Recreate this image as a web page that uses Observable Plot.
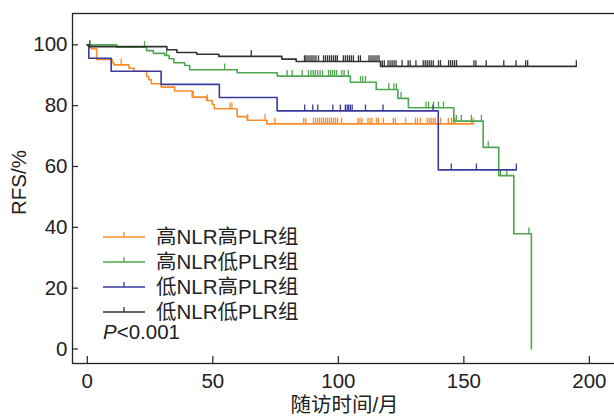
<!DOCTYPE html>
<html><head><meta charset="utf-8">
<script src="https://cdn.jsdelivr.net/npm/d3@7"></script>
<script src="https://cdn.jsdelivr.net/npm/@observablehq/plot@0.6"></script>
<style>
body{margin:0;background:#fff;}
#wrap{position:relative;width:614px;height:417px;overflow:hidden;font-family:"Liberation Sans",Arial,"Noto Sans CJK SC",sans-serif;color:#222;}
#legend{position:absolute;left:103px;top:222px;font-size:20.5px;}
.row{height:25px;display:flex;align-items:center;white-space:nowrap;}
.row svg{margin-right:11px;}
.prow{height:21px;display:flex;align-items:center;margin-top:-1px;}
</style>
</head><body>
<div id="wrap"><div id="chart"></div><div id="legend"></div></div>
<script>
// ---- data ----
const groups = ["高NLR高PLR组", "高NLR低PLR组", "低NLR高PLR组", "低NLR低PLR组"];
const colors = ["#f98c2c", "#4ea64e", "#3a3a9c", "#333333"];
const xTicks = [0, 50, 100, 150, 200];
const yTicks = [0, 20, 40, 60, 80, 100];

// 高NLR高PLR组 (orange)
const orangeT = [0, 1.5, 3.7, 9.9, 10.6, 16.6, 18.6, 23.6, 24.5, 25.5, 29.4, 34.8, 41.8, 47.5, 49.7, 50.6, 59.7, 63.7, 71.5];
const orangeS = [100, 98.7, 95.2, 94.1, 93.4, 92.3, 91.3, 89.6, 88.5, 87.2, 86.1, 84.8, 82.8, 81.7, 80.4, 79.0, 76.4, 75.2, 74.0];
const orangeEnd = 153.9;
const orangeCens = [13.5, 42.2, 47.8, 56.8, 57.6, 63.9, 70.8, 74.7, 86.2, 87.0, 90.1, 90.9, 91.7, 92.5, 93.3, 94.1, 94.9, 95.7, 96.5, 97.3, 98.1, 98.9, 99.7, 101.3, 107.8, 108.6, 109.4, 111.8, 112.6, 113.4, 115.2, 116.0, 117.9, 121.9, 122.7, 126.8, 130.7, 131.5, 132.7, 135.4, 136.2, 137.0, 137.8, 138.6, 140.8, 143.8, 145.1, 145.9, 146.4, 153.1, 153.8];

// 高NLR低PLR组 (green)
const greenT = [0, 11.7, 23.6, 26.3, 30.8, 32.6, 34.5, 38.8, 40.8, 59.7, 75.7, 104.8, 115.1, 123.7, 127.9, 146.0, 157.7, 163.9, 169.9, 176.9];
const greenS = [100, 99.2, 98.1, 97.2, 96.5, 95.4, 94.1, 93.2, 91.8, 90.8, 89.7, 87.7, 85.3, 82.4, 79.3, 74.9, 66.3, 57.0, 37.9, 0];
const greenEnd = 176.9;
const greenCens = [22.8, 31.6, 54.7, 79.6, 81.6, 85.6, 88.1, 89.1, 90.0, 90.8, 91.7, 92.7, 93.7, 96.1, 96.9, 97.7, 98.5, 99.3, 101.4, 102.3, 104.0, 108.8, 109.7, 110.8, 120.1, 122.1, 123.1, 125.0, 134.9, 135.9, 137.9, 139.9, 141.9, 147.0, 149.0, 153.0, 157.0, 159.7, 164.6, 167.1, 175.9];

// 低NLR高PLR组 (blue)
const blueT = [0, 0.6, 9.5, 29.4, 52.6, 75.6, 139.8];
const blueS = [100, 95.6, 91.3, 87.0, 82.7, 78.3, 58.9];
const blueEnd = 170.9;
const blueCens = [86.6, 89.8, 91.8, 97.8, 100.8, 102.8, 103.5, 104.1, 104.8, 105.5, 110.8, 117.8, 137.7, 145.0, 155.0, 170.9];

// 低NLR低PLR组 (black)
const blackT = [0, 0.5, 31.7, 35.7, 43.6, 52.4, 77.5, 83.2, 116.8];
const blackS = [100, 99.4, 98.4, 97.5, 96.9, 96.2, 95.3, 94.5, 92.9];
const blackEnd = 194.8;
const blackCens = [1.0, 65.3, 86.5, 87.1, 87.9, 88.7, 89.5, 90.3, 91.1, 92.1, 94.1, 94.9, 95.7, 96.5, 97.3, 98.1, 98.9, 99.6, 102.0, 102.8, 103.6, 104.4, 105.2, 106.0, 108.0, 108.8, 112.2, 113.0, 113.8, 114.6, 115.4, 116.2, 117.5, 118.3, 119.8, 120.6, 121.4, 122.2, 123.0, 125.4, 127.8, 128.6, 130.9, 133.8, 134.6, 135.4, 136.2, 137.0, 137.8, 139.9, 140.7, 143.9, 144.7, 145.5, 146.3, 147.1, 154.0, 154.8, 158.9, 165.9, 170.8, 174.6, 175.4, 194.8];

// ---- build ----
const series = [
  [orangeT, orangeS, orangeEnd, orangeCens],
  [greenT, greenS, greenEnd, greenCens],
  [blueT, blueS, blueEnd, blueCens],
  [blackT, blackS, blackEnd, blackCens]
];
function survAt(T, S, t) { let s = S[0]; for (let i = 0; i < T.length; i++) if (T[i] <= t) s = S[i]; return s; }

const W = 614, H = 417, mL = 72, mR = -2, mT = 13, mB = 54;
const plotW = W - mL - mR, plotH = H - mT - mB;
const marks = [];
series.forEach(([T, S, end, cens], gi) => {
  const pts = T.map((t, i) => ({t, s: S[i]}));
  pts.push({t: end, s: S[S.length - 1]});
  marks.push(Plot.line(pts, {x: "t", y: "s", curve: "step-after", stroke: colors[gi], strokeWidth: 1.6}));
  const cp = cens.map(t => ({t, s: survAt(T, S, t)}));
  marks.push(Plot.ruleX(cp, {x: "t", y1: "s", y2: d => d.s + 1.9, stroke: colors[gi], strokeWidth: 1.3}));
});

const chart = Plot.plot({
  width: W, height: H,
  marginLeft: mL, marginRight: mR, marginTop: mT, marginBottom: mB,
  style: {fontSize: "20.5px", fontFamily: '"Liberation Sans", Arial, "Noto Sans CJK SC", sans-serif', color: "#222", background: "#fff"},
  x: {domain: [-5.9, 210.8]},
  y: {domain: [-4.77, 110.3]},
  marks: [
    Plot.frame({stroke: "#222", strokeWidth: 1.3}),
    Plot.axisX({ticks: xTicks, tickSize: 0, tickPadding: 10, label: null, tickFormat: d => String(d)}),
    Plot.axisY({ticks: yTicks, tickSize: 0, tickPadding: 5, label: null, tickFormat: d => String(d)}),
    Plot.ruleX(xTicks, {x: d => d, insetTop: plotH - 7, stroke: "#222", strokeWidth: 1.2}),
    Plot.ruleY(yTicks, {y: d => d, insetRight: plotW - 6, stroke: "#222", strokeWidth: 1.2}),
    ...marks,
    Plot.text(["RFS/%"], {text: d => d, frameAnchor: "left", dx: -53, dy: -6, rotate: -90, textAnchor: "middle", lineAnchor: "middle", fontSize: 20.5, fill: "#222"}),
    Plot.text(["随访时间/月"], {text: d => d, frameAnchor: "bottom", dy: 42, textAnchor: "middle", lineAnchor: "middle", fontSize: 20.5, fill: "#222"})
  ]
});
document.getElementById("chart").appendChild(chart);

// legend
const leg = document.getElementById("legend");
groups.forEach((g, i) => {
  const row = document.createElement("div");
  row.className = "row";
  row.innerHTML = `<svg width="42" height="12"><line x1="0" x2="42" y1="8" y2="8" stroke="${colors[i]}" stroke-width="1.6"/><line x1="21" x2="21" y1="8" y2="3" stroke="${colors[i]}" stroke-width="1.3"/></svg><span>${g}</span>`;
  leg.appendChild(row);
});
const p = document.createElement("div");
p.className = "prow";
p.innerHTML = "<i>P</i>&lt;0.001";
leg.appendChild(p);
</script>
</body></html>
